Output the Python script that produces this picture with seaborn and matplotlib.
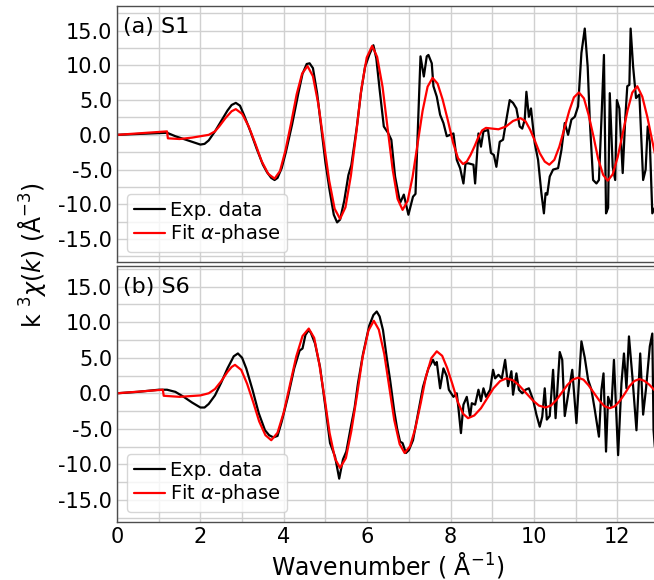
import matplotlib
matplotlib.use("Agg")
import matplotlib.pyplot as plt
from matplotlib.ticker import MultipleLocator, FormatStrFormatter
import seaborn as sns
import pandas as pd

# ---- data ----
# (a) S1 experimental
k_exp_s1 = [0.0, 0.6, 1.2, 1.4, 1.6, 1.8, 2.0, 2.1, 2.2, 2.35, 2.5, 2.65, 2.75, 2.85, 2.95,
            3.05, 3.2, 3.35, 3.5, 3.6, 3.7, 3.78, 3.85, 3.95, 4.05, 4.2, 4.35, 4.45, 4.55, 4.62,
            4.7, 4.8, 4.9, 5.0, 5.1, 5.2, 5.28, 5.35, 5.45, 5.55, 5.62, 5.75, 5.85, 5.95, 6.05,
            6.15, 6.22, 6.3, 6.4, 6.5, 6.58, 6.67, 6.79, 6.88, 6.99, 7.1, 7.16, 7.28, 7.36, 7.43,
            7.47, 7.55, 7.59, 7.67, 7.75, 7.83, 7.91, 7.99, 8.07, 8.15, 8.23, 8.31, 8.36, 8.43,
            8.55, 8.59, 8.67, 8.73, 8.79, 8.9, 8.97, 9.04, 9.1, 9.18, 9.26, 9.34, 9.42, 9.5,
            9.58, 9.66, 9.72, 9.78, 9.82, 9.88, 9.93, 10.02, 10.1, 10.18, 10.24, 10.28, 10.32,
            10.38, 10.46, 10.58, 10.66, 10.74, 10.82, 10.9, 10.98, 11.06, 11.14, 11.22, 11.29,
            11.34, 11.42, 11.5, 11.56, 11.62, 11.68, 11.73, 11.78, 11.82, 11.89, 11.95, 11.99,
            12.05, 12.13, 12.19, 12.24, 12.29, 12.32, 12.38, 12.45, 12.53, 12.62, 12.68, 12.73,
            12.78, 12.84, 12.9]
chi_exp_s1 = [0.0, 0.15, 0.3, -0.2, -0.6, -1.0, -1.4, -1.3, -0.8, 0.5, 2.0, 3.5, 4.3, 4.6, 4.2,
              2.8, 0.5, -2.0, -4.3, -5.4, -6.2, -6.5, -6.2, -4.8, -2.5, 1.5, 6.0, 8.8, 10.2, 10.3,
              9.6, 6.0, 1.0, -4.0, -8.0, -11.5, -12.6, -12.2, -9.5, -5.8, -4.4, 1.0, 6.0, 9.8, 11.5,
              12.9, 11.0, 6.5, 1.2, 0.3, -0.7, -6.0, -9.8, -8.6, -11.5, -8.9, -8.5, 11.3, 8.4, 11.3,
              11.5, 10.3, 7.0, 5.5, 2.9, 1.7, -0.2, 0.0, 0.2, -3.6, -4.8, -7.0, -4.1, -4.1,
              -4.3, -7.0, 0.2, -1.7, 0.5, 0.7, -2.6, -2.9, -4.6, -1.0, -0.7, 2.2, 5.0, 4.6,
              3.8, 1.2, 0.9, 2.2, 6.2, 2.6, 3.8, -1.2, -3.6, -8.4, -11.3, -8.4, -8.6,
              -6.0, -5.0, -4.8, -2.2, 1.7, 0.0, 2.2, 2.6, 4.1, 11.8, 15.3, 9.8,
              2.2, -6.5, -7.0, -6.5, 2.2, 11.5, -11.3, -10.5, 6.0, -4.6, -6.5, 5.0,
              3.8, -5.5, 2.2, 7.0, 7.2, 15.3, 9.8, 5.3, 5.8, -6.5, -5.0, 1.2,
              -1.0, -11.3, -10.5]

# (a) S1 fit
k_fit_s1 = [0.0, 0.6, 1.2, 1.22, 1.5, 1.8, 2.0, 2.2, 2.35, 2.45, 2.6, 2.75, 2.85, 3.0, 3.16,
            3.32, 3.47, 3.63, 3.78, 3.91, 4.04, 4.18, 4.31, 4.44, 4.57, 4.7, 4.83, 4.96, 5.09,
            5.22, 5.35, 5.48, 5.61, 5.74, 5.86, 5.99, 6.12, 6.24, 6.37, 6.49, 6.61, 6.73, 6.85,
            6.97, 7.09, 7.21, 7.33, 7.45, 7.57, 7.69, 7.81, 7.94, 8.06, 8.18, 8.3, 8.39, 8.48,
            8.58, 8.67, 8.76, 8.85, 9.0, 9.15, 9.33, 9.5, 9.68, 9.8, 9.91, 10.03, 10.14, 10.26,
            10.37, 10.49, 10.61, 10.73, 10.85, 10.96, 11.08, 11.2, 11.31, 11.43, 11.54, 11.66,
            11.77, 11.89, 12.01, 12.13, 12.25, 12.36, 12.48, 12.6, 12.72, 12.84, 12.96]
chi_fit_s1 = [0.0, 0.25, 0.5, -0.5, -0.6, -0.4, -0.2, 0.0, 0.5, 1.2, 2.4, 3.4, 3.7, 3.03, 1.2,
              -1.3, -3.8, -5.63, -6.3, -5.21, -2.25, 1.8, 5.85, 8.81, 9.9, 8.43, 4.4, -1.1, -6.6,
              -10.63, -12.1, -10.43, -5.88, 0.35, 6.58, 11.13, 12.8, 11.22, 6.9, 1.0, -4.9, -9.22, -10.8,
              -9.53, -6.05, -1.3, 3.45, 6.93, 8.2, 7.37, 5.1, 2.0, -1.1, -3.37, -4.2, -3.85, -2.9,
              -1.6, -0.3, 0.65, 1.0, 0.9, 0.8, 1.2, 2.0, 2.4, 1.95, 0.73, -0.95, -2.63, -3.85,
              -4.3, -3.6, -1.7, 0.9, 3.5, 5.4, 6.1, 5.25, 2.93, -0.25, -3.43, -5.75,
              -6.6, -5.69, -3.2, 0.2, 3.6, 6.09, 7.0, 5.5, 2.6, -0.9, -4.3]

# (b) S6 experimental
k_exp_s6 = [0.0, 0.5, 1.0, 1.2, 1.4, 1.6, 1.8, 2.0, 2.1, 2.2, 2.35, 2.5, 2.65, 2.8, 2.9, 3.0,
            3.1, 3.25, 3.4, 3.55, 3.65, 3.75, 3.85, 3.95, 4.1, 4.25, 4.38, 4.45, 4.52, 4.6, 4.65,
            4.75, 4.87, 5.0, 5.11, 5.23, 5.33, 5.42, 5.5, 5.6, 5.7, 5.78, 5.9, 6.05, 6.15, 6.23,
            6.3, 6.38, 6.47, 6.55, 6.65, 6.72, 6.79, 6.85, 6.93, 7.0, 7.1, 7.2, 7.34, 7.39, 7.47,
            7.58, 7.63, 7.67, 7.75, 7.83, 7.91, 7.96, 8.07, 8.15, 8.19, 8.25, 8.31, 8.39, 8.47,
            8.51, 8.59, 8.67, 8.73, 8.79, 8.85, 8.95, 9.02, 9.07, 9.15, 9.23, 9.31, 9.38, 9.46,
            9.5, 9.58, 9.64, 9.72, 9.8, 9.88, 9.98, 10.06, 10.14, 10.2, 10.26, 10.31, 10.38,
            10.46, 10.52, 10.62, 10.68, 10.74, 10.84, 10.92, 11.02, 11.14, 11.22, 11.3, 11.38,
            11.46, 11.56, 11.62, 11.67, 11.73, 11.78, 11.86, 11.92, 12.02, 12.1, 12.16, 12.22,
            12.28, 12.36, 12.46, 12.55, 12.62, 12.69, 12.78, 12.84, 12.87, 12.9]
chi_exp_s6 = [0.0, 0.2, 0.5, 0.5, 0.2, -0.5, -1.3, -2.0, -2.0, -1.5, -0.3, 1.5, 3.5, 5.2, 5.6, 5.0,
              3.5, 0.5, -2.8, -5.2, -5.9, -6.2, -6.0, -4.0, -0.5, 3.5, 6.0, 6.3, 8.2, 8.9, 8.5,
              7.0, 3.7, -2.0, -7.0, -8.9, -12.0, -9.3, -8.2, -5.0, -2.0, 1.4, 5.5, 9.5, 11.0, 11.5,
              10.8, 8.9, 5.0, 1.9, -2.5, -5.0, -6.8, -7.0, -8.4, -8.0, -6.6, -3.5, 0.9, 1.9, 3.5,
              4.7, 4.0, 4.4, 0.7, 3.5, 2.4, 0.5, -0.5, 0.0, -2.1, -5.6, -1.6, -0.5, -3.3,
              -1.4, -1.6, 0.5, -1.1, 0.7, -0.5, 0.5, 3.3, 2.1, 2.6, 2.1, 4.7, 1.0, 3.1,
              -0.2, 2.8, 0.5, 0.0, 0.5, 0.7, -0.9, -3.0, -4.7, -3.3, 0.7, -3.7, -3.2,
              3.3, -3.5, 5.8, 4.7, -3.2, 0.5, 3.3, -4.2, 7.3, 5.0, 1.9, 0.5,
              -2.3, -6.1, 0.5, 2.8, -8.2, -0.5, -1.9, 4.7, -8.7, 1.4, 5.6, 0.7,
              8.0, 2.5, -5.2, 5.6, -3.0, 0.7, 6.6, 8.4, -5.2, -7.5]

# (b) S6 fit
k_fit_s6 = [0.0, 0.6, 1.1, 1.12, 1.5, 2.0, 2.2, 2.35, 2.5, 2.65, 2.75, 2.83, 2.98, 3.12, 3.27,
            3.41, 3.56, 3.7, 3.85, 4.0, 4.15, 4.3, 4.45, 4.6, 4.73, 4.85, 4.98, 5.1, 5.23, 5.35,
            5.49, 5.62, 5.76, 5.89, 6.03, 6.16, 6.28, 6.41, 6.53, 6.65, 6.78, 6.9, 7.03, 7.16,
            7.29, 7.41, 7.54, 7.67, 7.8, 7.92, 8.05, 8.17, 8.3, 8.42, 8.57, 8.73, 8.88, 9.03,
            9.19, 9.34, 9.5, 9.65, 9.81, 9.97, 10.12, 10.28, 10.41, 10.54, 10.67, 10.8, 10.93,
            11.06, 11.19, 11.31, 11.44, 11.57, 11.69, 11.82, 11.94, 12.06, 12.18, 12.29, 12.41,
            12.53, 12.65, 12.77, 12.9]
chi_fit_s6 = [0.0, 0.27, 0.5, -0.35, -0.5, -0.3, 0.0, 0.6, 1.7, 3.0, 3.7, 4.0, 3.29, 1.35, -1.3,
              -3.95, -5.89, -6.6, -5.55, -2.68, 1.25, 5.18, 8.05, 9.1, 7.79, 4.2, -0.7, -5.6, -9.19, -10.5,
              -9.11, -5.33, -0.15, 5.03, 8.81, 10.2, 8.95, 5.55, 0.9, -3.75, -7.15, -8.4, -7.44, -4.83,
              -1.25, 2.33, 4.94, 5.9, 5.27, 3.55, 1.2, -1.15, -2.87, -3.5, -3.12, -2.1, -0.7, 0.7,
              1.72, 2.1, 1.83, 1.08, 0.05, -0.98, -1.73, -2.0, -1.72, -0.95, 0.1, 1.15, 1.92,
              2.2, 1.91, 1.13, 0.05, -1.03, -1.81, -2.1, -1.83, -1.08, -0.05, 0.98, 1.73,
              2.0, 1.75, 1.2, 0.4]

panel_titles = ["(a) S1", "(b) S6"]
legend_labels = ["Exp. data", r"Fit $\alpha$-phase"]

sns.set_style("whitegrid")
plt.rcParams['font.family'] = ['DejaVu Sans']
plt.rcParams['text.color'] = 'black'
plt.rcParams['axes.labelcolor'] = 'black'
plt.rcParams['xtick.labelcolor'] = 'black'
plt.rcParams['ytick.labelcolor'] = 'black'

fig = plt.figure(figsize=(6.54, 5.8), dpi=100)
ax1 = fig.add_axes([0.1789, 0.5483, 0.8287, 0.4414])
ax2 = fig.add_axes([0.1789, 0.1, 0.8287, 0.4414])

panels = [
    (ax1, k_exp_s1, chi_exp_s1, k_fit_s1, chi_fit_s1, (-18.3, 18.55)),
    (ax2, k_exp_s6, chi_exp_s6, k_fit_s6, chi_fit_s6, (-18.1, 17.9)),
]

for i, (ax, ke, ce, kf, cf, ylim) in enumerate(panels):
    exp_df = pd.DataFrame({"k": ke, "chi": ce})
    fit_df = pd.DataFrame({"k": kf, "chi": cf})
    sns.lineplot(data=exp_df, x="k", y="chi", ax=ax, color="black", lw=1.6,
                 estimator=None, label=legend_labels[0])
    sns.lineplot(data=fit_df, x="k", y="chi", ax=ax, color="red", lw=1.6,
                 estimator=None, label=legend_labels[1])
    ax.set_xlim(0, 13)
    ax.set_ylim(*ylim)
    ax.xaxis.set_major_locator(MultipleLocator(2))
    ax.xaxis.set_minor_locator(MultipleLocator(1))
    ax.yaxis.set_major_locator(MultipleLocator(5))
    ax.yaxis.set_minor_locator(MultipleLocator(2.5))
    ax.yaxis.set_major_formatter(FormatStrFormatter('%.1f'))
    ax.grid(True, which='both', color='#d0d0d0', lw=1.0)
    ax.tick_params(which='both', direction='in', labelsize=15, color='0.3',
                   labelcolor='black')
    ax.tick_params(which='major', length=4, width=1)
    ax.tick_params(which='minor', length=2.5, width=0.8)
    for sp in ax.spines.values():
        sp.set_color('0.3')
        sp.set_linewidth(1.0)
    ax.set_xlabel("")
    ax.set_ylabel("")
    ax.text(0.011, 0.918, panel_titles[i], transform=ax.transAxes, fontsize=16,
            ha='left', va='center', color='black')
    leg = ax.legend(loc='lower left', fontsize=14, handlelength=1.6, handletextpad=0.25,
                    labelspacing=0.15, borderpad=0.35, frameon=True, fancybox=True,
                    framealpha=0.8, edgecolor='#cccccc')
    for t in leg.get_texts():
        t.set_color('black')

ax1.tick_params(axis='x', labelbottom=False)
ax2.set_xlabel(r"Wavenumber ( Å$^{-1}$)", fontsize=17, labelpad=2, color='black')
fig.text(0.049, 0.56, r"k $^3\chi(k)$ (Å$^{-3}$)", fontsize=17, rotation=90,
         ha='center', va='center', color='black')

fig.savefig("out.png", dpi=100)
